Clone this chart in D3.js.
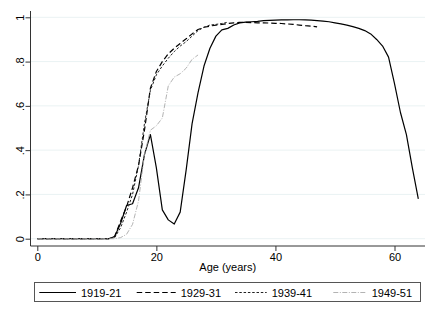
<!DOCTYPE html>
<html><head><meta charset="utf-8">
<script src="https://cdn.jsdelivr.net/npm/d3@7"></script>
<style>
html,body{margin:0;padding:0;background:#fff;}
svg{display:block;font-family:"Liberation Sans",Arial,sans-serif;}
</style></head>
<body><svg id="chart" width="436" height="317"></svg>
<script>
// ---- data ----
const ages = d3.range(0, 65);
const zeros13 = [0,0,0,0,0,0,0,0,0,0,0,0,0];
const s1919 = zeros13.concat([0.01,0.07,0.15,0.158,0.23,0.38,0.47,0.32,0.13,0.085,0.066,0.12,0.31,0.52,0.66,0.78,0.86,0.915,0.943,0.95,0.965,0.975,0.978,0.98,0.982,0.985,0.986,0.987,0.988,0.988,0.989,0.989,0.988,0.987,0.985,0.983,0.98,0.975,0.97,0.965,0.958,0.95,0.94,0.925,0.9,0.87,0.82,0.70,0.57,0.47,0.32,0.18]);
const s1929 = zeros13.concat([0.01,0.08,0.145,0.23,0.33,0.49,0.68,0.755,0.80,0.835,0.86,0.882,0.903,0.925,0.945,0.955,0.96,0.965,0.968,0.972,0.975,0.977,0.977,0.976,0.975,0.975,0.974,0.973,0.972,0.97,0.968,0.965,0.962,0.96,0.957]);
const s1939 = zeros13.concat([0.005,0.05,0.12,0.2,0.33,0.52,0.67,0.74,0.78,0.815,0.845,0.87,0.89,0.915,0.94,0.955,0.965,0.968,0.972,0.978]);
const s1949 = zeros13.concat([0.0,0.005,0.02,0.065,0.17,0.38,0.49,0.51,0.545,0.69,0.73,0.745,0.77,0.81,0.83]);
const seriesNames = ["1919-21","1929-31","1939-41","1949-51"];
const seriesData = [s1919, s1929, s1939, s1949];
const xTicks = [0,20,40,60];
const yTicks = [0,0.2,0.4,0.6,0.8,1];
const yTickLabels = ["0",".2",".4",".6",".8","1"];

// ---- styles ----
const styles = [
  {stroke:"#000", width:1.2, dash:null},
  {stroke:"#000", width:1.2, dash:"5.5,3"},
  {stroke:"#222", width:1.0, dash:"2.5,1.8"},
  {stroke:"#aaa", width:0.9, dash:"5,1.5,1,1.5"}
];

const svg = d3.select("#chart");
const x = d3.scaleLinear().domain([0,60]).range([37.3, 394.5]);
const y = d3.scaleLinear().domain([0,1]).range([238.7, 17.3]);
const plotL = 30.5, plotR = 425, plotT = 11, plotB = 246;

// gridlines
svg.append("g").selectAll("line").data(yTicks).join("line")
  .attr("x1", plotL).attr("x2", plotR)
  .attr("y1", d=>y(d)).attr("y2", d=>y(d))
  .attr("stroke", "#eaf2f3").attr("stroke-width", 1);

// y axis
const yAxis = svg.append("g").attr("transform", `translate(${plotL},0)`)
  .call(d3.axisLeft(y).tickValues(yTicks).tickFormat((d,i)=>yTickLabels[i]).tickSize(5).tickSizeOuter(0));
yAxis.select(".domain").attr("d", `M0,${plotT}V${plotB}`).attr("stroke","#333");
yAxis.selectAll(".tick line").attr("stroke","#333");
yAxis.selectAll(".tick text")
  .attr("font-size", 11).attr("fill","#000")
  .attr("transform", "rotate(-90)")
  .attr("x", 0).attr("y", -7).attr("dy", 0)
  .attr("text-anchor","middle");

// x axis
const xAxis = svg.append("g").attr("transform", `translate(0,${plotB})`)
  .call(d3.axisBottom(x).tickValues(xTicks).tickFormat(d3.format("d")).tickSize(5).tickSizeOuter(0));
xAxis.select(".domain").attr("d", `M${plotL},0H${plotR}`).attr("stroke","#333");
xAxis.selectAll(".tick line").attr("stroke","#333");
xAxis.selectAll(".tick text").attr("font-size", 11).attr("fill","#000").attr("y", 7).attr("dy","0.71em");

svg.append("text").attr("x", (plotL+plotR)/2).attr("y", 270.5)
  .attr("text-anchor","middle").attr("font-size", 11).text("Age (years)");

// lines
const line = d3.line().x((d,i)=>x(ages[i])).y(d=>y(d));
seriesData.forEach((s,k)=>{
  svg.append("path").datum(s).attr("d", line)
    .attr("fill","none").attr("stroke", styles[k].stroke)
    .attr("stroke-width", styles[k].width)
    .attr("stroke-dasharray", styles[k].dash)
    .attr("stroke-linejoin","round");
});

// legend
const lg = svg.append("g");
lg.append("rect").attr("x", 34.5).attr("y", 282.5).attr("width", 386).attr("height", 19)
  .attr("fill","#fff").attr("stroke","#555").attr("stroke-width",1);
const legX = [39.3, 136.7, 235, 333.3];
const legW = [36.7, 39, 31.7, 33.4];
seriesNames.forEach((n,k)=>{
  lg.append("line").attr("x1", legX[k]).attr("x2", legX[k]+legW[k])
    .attr("y1", 292.5).attr("y2", 292.5)
    .attr("stroke", styles[k].stroke).attr("stroke-width", styles[k].width)
    .attr("stroke-dasharray", styles[k].dash);
  lg.append("text").attr("x", legX[k]+legW[k]+5).attr("y", 296.5)
    .attr("font-size", 11).text(n);
});
</script></body></html>
